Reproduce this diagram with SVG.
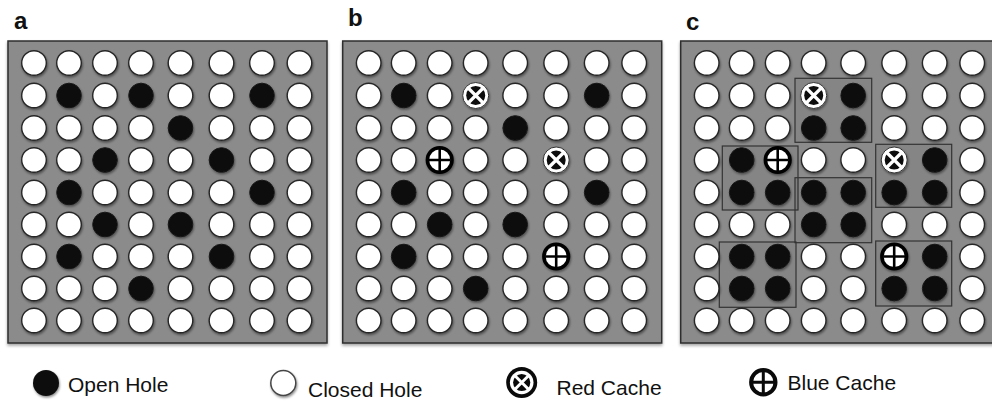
<svg xmlns="http://www.w3.org/2000/svg" xmlns:xlink="http://www.w3.org/1999/xlink" width="992" height="401" viewBox="0 0 992 401">
<style>
.panel{fill:#8b8b8b;stroke:#2e2e2e;stroke-width:1.5}
.c{fill:#fff;stroke:#262626;stroke-width:1.4}
.o{fill:#0c0c0c;stroke:#1a1a1a;stroke-width:1}
.box{fill:rgba(0,0,0,0.04);stroke:#333;stroke-width:1.2}
.lbl{font-family:"Liberation Sans",Arial,sans-serif;font-weight:bold;font-size:24px;fill:#111}
.leg{font-family:"Liberation Sans",Arial,sans-serif;font-size:21px;fill:#111}
</style>
<defs>
<filter id="sh" x="-30%" y="-30%" width="160%" height="160%">
<feDropShadow dx="0.8" dy="1.6" stdDeviation="1.2" flood-color="#000" flood-opacity="0.45"/>
</filter>
<filter id="psh" x="-5%" y="-5%" width="110%" height="110%">
<feDropShadow dx="0" dy="2" stdDeviation="1.5" flood-color="#000" flood-opacity="0.35"/>
</filter>
<circle id="cl" r="12.3" class="c"/>
<circle id="op" r="12.3" class="o"/>
<g id="red">
<circle r="13" fill="#fff" stroke="#333" stroke-width="1"/>
<circle r="9.5" fill="#0c0c0c"/>
<path d="M-8,-8L8,8M8,-8L-8,8" stroke="#fff" stroke-width="3.2"/>
</g>
<g id="blue">
<circle r="12.3" fill="#fff" stroke="#050505" stroke-width="3.6"/>
<path d="M0,-11V11M-11,0H11" stroke="#050505" stroke-width="2.6"/>
</g>
</defs>

<g id="label-a"><text class="lbl" x="14" y="29">a</text></g>
<g id="label-b"><text class="lbl" x="348" y="26">b</text></g>
<g id="label-c"><text class="lbl" x="686" y="30">c</text></g>

<!-- Panel a -->
<g id="panel-a">
<rect class="panel" x="8" y="41" width="319" height="302" filter="url(#psh)"/>
<g filter="url(#sh)">
<use href="#cl" x="34" y="63"/><use href="#cl" x="69" y="63"/><use href="#cl" x="105" y="63"/><use href="#cl" x="141" y="63"/><use href="#cl" x="180.5" y="63"/><use href="#cl" x="221.5" y="63"/><use href="#cl" x="262" y="63"/><use href="#cl" x="299.5" y="63"/>
<use href="#cl" x="34" y="95.5"/><use href="#op" x="69" y="95.5"/><use href="#cl" x="105" y="95.5"/><use href="#op" x="141" y="95.5"/><use href="#cl" x="180.5" y="95.5"/><use href="#cl" x="221.5" y="95.5"/><use href="#op" x="262" y="95.5"/><use href="#cl" x="299.5" y="95.5"/>
<use href="#cl" x="34" y="128"/><use href="#cl" x="69" y="128"/><use href="#cl" x="105" y="128"/><use href="#cl" x="141" y="128"/><use href="#op" x="180.5" y="128"/><use href="#cl" x="221.5" y="128"/><use href="#cl" x="262" y="128"/><use href="#cl" x="299.5" y="128"/>
<use href="#cl" x="34" y="160"/><use href="#cl" x="69" y="160"/><use href="#op" x="105" y="160"/><use href="#cl" x="141" y="160"/><use href="#cl" x="180.5" y="160"/><use href="#op" x="221.5" y="160"/><use href="#cl" x="262" y="160"/><use href="#cl" x="299.5" y="160"/>
<use href="#cl" x="34" y="192.5"/><use href="#op" x="69" y="192.5"/><use href="#cl" x="105" y="192.5"/><use href="#cl" x="141" y="192.5"/><use href="#cl" x="180.5" y="192.5"/><use href="#cl" x="221.5" y="192.5"/><use href="#op" x="262" y="192.5"/><use href="#cl" x="299.5" y="192.5"/>
<use href="#cl" x="34" y="224.5"/><use href="#cl" x="69" y="224.5"/><use href="#op" x="105" y="224.5"/><use href="#cl" x="141" y="224.5"/><use href="#op" x="180.5" y="224.5"/><use href="#cl" x="221.5" y="224.5"/><use href="#cl" x="262" y="224.5"/><use href="#cl" x="299.5" y="224.5"/>
<use href="#cl" x="34" y="256.5"/><use href="#op" x="69" y="256.5"/><use href="#cl" x="105" y="256.5"/><use href="#cl" x="141" y="256.5"/><use href="#cl" x="180.5" y="256.5"/><use href="#op" x="221.5" y="256.5"/><use href="#cl" x="262" y="256.5"/><use href="#cl" x="299.5" y="256.5"/>
<use href="#cl" x="34" y="288.5"/><use href="#cl" x="69" y="288.5"/><use href="#cl" x="105" y="288.5"/><use href="#op" x="141" y="288.5"/><use href="#cl" x="180.5" y="288.5"/><use href="#cl" x="221.5" y="288.5"/><use href="#cl" x="262" y="288.5"/><use href="#cl" x="299.5" y="288.5"/>
<use href="#cl" x="34" y="320.5"/><use href="#cl" x="69" y="320.5"/><use href="#cl" x="105" y="320.5"/><use href="#cl" x="141" y="320.5"/><use href="#cl" x="180.5" y="320.5"/><use href="#cl" x="221.5" y="320.5"/><use href="#cl" x="262" y="320.5"/><use href="#cl" x="299.5" y="320.5"/>
</g>
</g>

<!-- Panel b -->
<g id="panel-b" transform="translate(334.7,0)">
<rect class="panel" x="8" y="41" width="319" height="302" filter="url(#psh)"/>
<g filter="url(#sh)">
<use href="#cl" x="34" y="63"/><use href="#cl" x="69" y="63"/><use href="#cl" x="105" y="63"/><use href="#cl" x="141" y="63"/><use href="#cl" x="180.5" y="63"/><use href="#cl" x="221.5" y="63"/><use href="#cl" x="262" y="63"/><use href="#cl" x="299.5" y="63"/>
<use href="#cl" x="34" y="95.5"/><use href="#op" x="69" y="95.5"/><use href="#cl" x="105" y="95.5"/><use href="#red" x="141" y="95.5"/><use href="#cl" x="180.5" y="95.5"/><use href="#cl" x="221.5" y="95.5"/><use href="#op" x="262" y="95.5"/><use href="#cl" x="299.5" y="95.5"/>
<use href="#cl" x="34" y="128"/><use href="#cl" x="69" y="128"/><use href="#cl" x="105" y="128"/><use href="#cl" x="141" y="128"/><use href="#op" x="180.5" y="128"/><use href="#cl" x="221.5" y="128"/><use href="#cl" x="262" y="128"/><use href="#cl" x="299.5" y="128"/>
<use href="#cl" x="34" y="160"/><use href="#cl" x="69" y="160"/><use href="#blue" x="105" y="160"/><use href="#cl" x="141" y="160"/><use href="#cl" x="180.5" y="160"/><use href="#red" x="221.5" y="160"/><use href="#cl" x="262" y="160"/><use href="#cl" x="299.5" y="160"/>
<use href="#cl" x="34" y="192.5"/><use href="#op" x="69" y="192.5"/><use href="#cl" x="105" y="192.5"/><use href="#cl" x="141" y="192.5"/><use href="#cl" x="180.5" y="192.5"/><use href="#cl" x="221.5" y="192.5"/><use href="#op" x="262" y="192.5"/><use href="#cl" x="299.5" y="192.5"/>
<use href="#cl" x="34" y="224.5"/><use href="#cl" x="69" y="224.5"/><use href="#op" x="105" y="224.5"/><use href="#cl" x="141" y="224.5"/><use href="#op" x="180.5" y="224.5"/><use href="#cl" x="221.5" y="224.5"/><use href="#cl" x="262" y="224.5"/><use href="#cl" x="299.5" y="224.5"/>
<use href="#cl" x="34" y="256.5"/><use href="#op" x="69" y="256.5"/><use href="#cl" x="105" y="256.5"/><use href="#cl" x="141" y="256.5"/><use href="#cl" x="180.5" y="256.5"/><use href="#blue" x="221.5" y="256.5"/><use href="#cl" x="262" y="256.5"/><use href="#cl" x="299.5" y="256.5"/>
<use href="#cl" x="34" y="288.5"/><use href="#cl" x="69" y="288.5"/><use href="#cl" x="105" y="288.5"/><use href="#op" x="141" y="288.5"/><use href="#cl" x="180.5" y="288.5"/><use href="#cl" x="221.5" y="288.5"/><use href="#cl" x="262" y="288.5"/><use href="#cl" x="299.5" y="288.5"/>
<use href="#cl" x="34" y="320.5"/><use href="#cl" x="69" y="320.5"/><use href="#cl" x="105" y="320.5"/><use href="#cl" x="141" y="320.5"/><use href="#cl" x="180.5" y="320.5"/><use href="#cl" x="221.5" y="320.5"/><use href="#cl" x="262" y="320.5"/><use href="#cl" x="299.5" y="320.5"/>
</g>
</g>

<!-- Panel c -->
<g id="panel-c" transform="translate(672.7,0)">
<rect class="panel" x="8" y="41" width="319" height="302" filter="url(#psh)"/>
<g id="groups">
<rect class="box" x="122.3" y="78.3" width="76.7" height="64"/>
<rect class="box" x="49.6" y="146" width="75.7" height="64"/>
<rect class="box" x="122.3" y="177.7" width="76.7" height="65"/>
<rect class="box" x="203" y="144.3" width="76" height="63"/>
<rect class="box" x="46.6" y="242" width="76.7" height="65.3"/>
<rect class="box" x="203" y="241" width="76" height="65"/>
</g>
<g filter="url(#sh)">
<use href="#cl" x="34" y="63"/><use href="#cl" x="69" y="63"/><use href="#cl" x="105" y="63"/><use href="#cl" x="141" y="63"/><use href="#cl" x="180.5" y="63"/><use href="#cl" x="221.5" y="63"/><use href="#cl" x="262" y="63"/><use href="#cl" x="299.5" y="63"/>
<use href="#cl" x="34" y="95.5"/><use href="#cl" x="69" y="95.5"/><use href="#cl" x="105" y="95.5"/><use href="#red" x="141" y="95.5"/><use href="#op" x="180.5" y="95.5"/><use href="#cl" x="221.5" y="95.5"/><use href="#cl" x="262" y="95.5"/><use href="#cl" x="299.5" y="95.5"/>
<use href="#cl" x="34" y="128"/><use href="#cl" x="69" y="128"/><use href="#cl" x="105" y="128"/><use href="#op" x="141" y="128"/><use href="#op" x="180.5" y="128"/><use href="#cl" x="221.5" y="128"/><use href="#cl" x="262" y="128"/><use href="#cl" x="299.5" y="128"/>
<use href="#cl" x="34" y="160"/><use href="#op" x="69" y="160"/><use href="#blue" x="105" y="160"/><use href="#cl" x="141" y="160"/><use href="#cl" x="180.5" y="160"/><use href="#red" x="221.5" y="160"/><use href="#op" x="262" y="160"/><use href="#cl" x="299.5" y="160"/>
<use href="#cl" x="34" y="192.5"/><use href="#op" x="69" y="192.5"/><use href="#op" x="105" y="192.5"/><use href="#op" x="141" y="192.5"/><use href="#op" x="180.5" y="192.5"/><use href="#op" x="221.5" y="192.5"/><use href="#op" x="262" y="192.5"/><use href="#cl" x="299.5" y="192.5"/>
<use href="#cl" x="34" y="224.5"/><use href="#cl" x="69" y="224.5"/><use href="#cl" x="105" y="224.5"/><use href="#op" x="141" y="224.5"/><use href="#op" x="180.5" y="224.5"/><use href="#cl" x="221.5" y="224.5"/><use href="#cl" x="262" y="224.5"/><use href="#cl" x="299.5" y="224.5"/>
<use href="#cl" x="34" y="256.5"/><use href="#op" x="69" y="256.5"/><use href="#op" x="105" y="256.5"/><use href="#cl" x="141" y="256.5"/><use href="#cl" x="180.5" y="256.5"/><use href="#blue" x="221.5" y="256.5"/><use href="#op" x="262" y="256.5"/><use href="#cl" x="299.5" y="256.5"/>
<use href="#cl" x="34" y="288.5"/><use href="#op" x="69" y="288.5"/><use href="#op" x="105" y="288.5"/><use href="#cl" x="141" y="288.5"/><use href="#cl" x="180.5" y="288.5"/><use href="#op" x="221.5" y="288.5"/><use href="#op" x="262" y="288.5"/><use href="#cl" x="299.5" y="288.5"/>
<use href="#cl" x="34" y="320.5"/><use href="#cl" x="69" y="320.5"/><use href="#cl" x="105" y="320.5"/><use href="#cl" x="141" y="320.5"/><use href="#cl" x="180.5" y="320.5"/><use href="#cl" x="221.5" y="320.5"/><use href="#cl" x="262" y="320.5"/><use href="#cl" x="299.5" y="320.5"/>
</g>
</g>

<!-- Legend -->
<g id="legend-open">
<circle cx="46" cy="383" r="13" fill="#0c0c0c" filter="url(#sh)"/>
<text class="leg" x="68" y="391.5">Open Hole</text>
</g>
<g id="legend-closed">
<circle cx="283.3" cy="383" r="12.5" fill="#fff" stroke="#444" stroke-width="1.5" filter="url(#sh)"/>
<text class="leg" x="308" y="396.5">Closed Hole</text>
</g>
<g id="legend-red">
<circle cx="521.7" cy="382.5" r="15.5" fill="#0a0a0a"/>
<circle cx="521.7" cy="382.5" r="11.8" fill="#fff"/>
<circle cx="521.7" cy="382.5" r="8.6" fill="#0a0a0a"/>
<path d="M514.7,375.5L528.7,389.5M528.7,375.5L514.7,389.5" stroke="#fff" stroke-width="3"/>
<text class="leg" x="556.5" y="395">Red Cache</text>
</g>
<g id="legend-blue">
<circle cx="763.3" cy="382.3" r="12.2" fill="#fff" stroke="#0a0a0a" stroke-width="4"/>
<path d="M763.3,371V393.6M752,382.3H774.6" stroke="#0a0a0a" stroke-width="3"/>
<text class="leg" x="787.5" y="390">Blue Cache</text>
</g>
</svg>
